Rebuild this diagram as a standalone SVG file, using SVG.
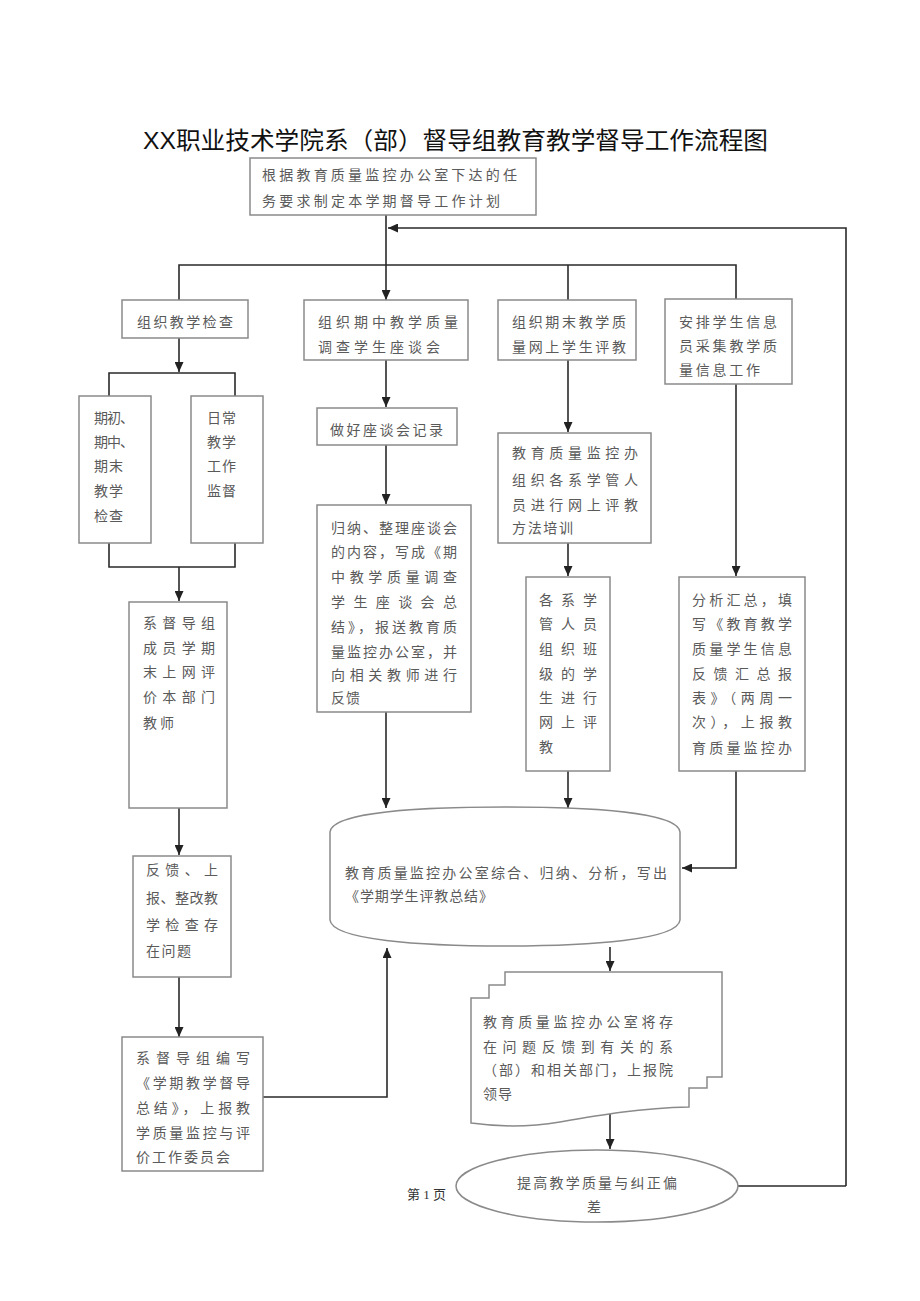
<svg xmlns="http://www.w3.org/2000/svg" width="920" height="1301" viewBox="0 0 920 1301">
<defs>
<marker id="ah" markerWidth="10" markerHeight="9" refX="10" refY="4.5" orient="auto" markerUnits="userSpaceOnUse">
<path d="M0,0 L10,4.5 L0,9 z" fill="#222"/>
</marker>
<style>
.box{fill:#fff;stroke:#8a8a8a;stroke-width:1.5}
.t{font-family:"Noto Sans CJK SC","Liberation Sans",sans-serif;font-size:14px;fill:#5a5a5a}
.c{fill:none;stroke:#2a2a2a;stroke-width:1.6}
.ca{fill:none;stroke:#2a2a2a;stroke-width:1.6;marker-end:url(#ah)}
</style>
</defs>
<rect width="920" height="1301" fill="#fff"/>
<text x="143" y="149" textLength="625" lengthAdjust="spacingAndGlyphs" style="font-family:'Liberation Sans','Noto Sans CJK SC',sans-serif;font-size:24px;fill:#111">XX<tspan style="font-family:'Noto Sans CJK SC',sans-serif">职业技术学院系（部）督导组教育教学督导工作流程图</tspan></text>

<g id="connectors">
<path class="ca" d="M386,215 V300"/>
<path class="ca" d="M846,1186 V228 H388"/>
<path class="c" d="M179,300 V265 H736 V299"/>
<path class="c" d="M568,265 V300"/>
<path class="ca" d="M179,338 V372"/>
<path class="c" d="M109,396 V373 H235 V396"/>
<path class="c" d="M109,543 V567 H235 V543"/>
<path class="ca" d="M179,567 V601"/>
<path class="ca" d="M179,808 V855"/>
<path class="ca" d="M179,977 V1037"/>
<path class="ca" d="M263,1097 H387 V948"/>
<path class="ca" d="M386,360 V407"/>
<path class="ca" d="M386,445 V504"/>
<path class="ca" d="M386,712 V808"/>
<path class="ca" d="M568,360 V432"/>
<path class="ca" d="M568,543 V576"/>
<path class="ca" d="M568,771 V808"/>
<path class="ca" d="M736,384 V576"/>
<path class="ca" d="M736,771 V868 H682"/>
<path class="ca" d="M610,947 V971"/>
<path class="ca" d="M610,1114 V1149"/>
<path class="c" d="M738,1186 H846"/>
</g>

<g id="n-plan">
<rect class="box" x="250" y="158" width="286" height="57"/>
<text class="t" x="262" y="180" textLength="255" lengthAdjust="spacing">根据教育质量监控办公室下达的任</text>
<text class="t" x="262" y="206" textLength="238" lengthAdjust="spacing">务要求制定本学期督导工作计划</text>
</g>

<g id="n-check">
<rect class="box" x="122" y="300" width="126" height="38"/>
<text class="t" x="137" y="327" textLength="96" lengthAdjust="spacing">组织教学检查</text>
</g>

<g id="n-midterm">
<rect class="box" x="304" y="300" width="164" height="60"/>
<text class="t" x="318" y="327" textLength="140" lengthAdjust="spacing">组织期中教学质量</text>
<text class="t" x="318" y="352" textLength="122" lengthAdjust="spacing">调查学生座谈会</text>
</g>

<g id="n-final">
<rect class="box" x="498" y="300" width="138" height="60"/>
<text class="t" x="512" y="327" textLength="114" lengthAdjust="spacing">组织期末教学质</text>
<text class="t" x="512" y="352" textLength="114" lengthAdjust="spacing">量网上学生评教</text>
</g>

<g id="n-info">
<rect class="box" x="665" y="299" width="127" height="85"/>
<text class="t" x="679" y="327" textLength="98" lengthAdjust="spacing">安排学生信息</text>
<text class="t" x="679" y="351" textLength="98" lengthAdjust="spacing">员采集教学质</text>
<text class="t" x="679" y="375" textLength="81" lengthAdjust="spacing">量信息工作</text>
</g>

<g id="n-periodic">
<rect class="box" x="79" y="396" width="72" height="147"/>
<text class="t" x="94" y="423" textLength="40" lengthAdjust="spacing">期初、</text>
<text class="t" x="94" y="447" textLength="40" lengthAdjust="spacing">期中、</text>
<text class="t" x="94" y="471" textLength="29" lengthAdjust="spacing">期末</text>
<text class="t" x="94" y="496" textLength="29" lengthAdjust="spacing">教学</text>
<text class="t" x="94" y="521" textLength="29" lengthAdjust="spacing">检查</text>
</g>

<g id="n-daily">
<rect class="box" x="191" y="396" width="72" height="147"/>
<text class="t" x="207" y="423" textLength="29" lengthAdjust="spacing">日常</text>
<text class="t" x="207" y="447" textLength="29" lengthAdjust="spacing">教学</text>
<text class="t" x="207" y="471" textLength="29" lengthAdjust="spacing">工作</text>
<text class="t" x="207" y="496" textLength="29" lengthAdjust="spacing">监督</text>
</g>

<g id="n-online">
<rect class="box" x="129" y="602" width="98" height="206"/>
<text class="t" x="143" y="628" textLength="72" lengthAdjust="spacing">系督导组</text>
<text class="t" x="143" y="653" textLength="72" lengthAdjust="spacing">成员学期</text>
<text class="t" x="143" y="677" textLength="72" lengthAdjust="spacing">末上网评</text>
<text class="t" x="143" y="702" textLength="72" lengthAdjust="spacing">价本部门</text>
<text class="t" x="143" y="728" textLength="31" lengthAdjust="spacing">教师</text>
</g>

<g id="n-feedback">
<rect class="box" x="133" y="856" width="98" height="121"/>
<text class="t" x="146" y="875" textLength="72" lengthAdjust="spacing">反馈、上</text>
<text class="t" x="146" y="903" textLength="72" lengthAdjust="spacing">报、整改教</text>
<text class="t" x="146" y="930" textLength="72" lengthAdjust="spacing">学检查存</text>
<text class="t" x="146" y="956" textLength="45" lengthAdjust="spacing">在问题</text>
</g>

<g id="n-summary">
<rect class="box" x="122" y="1037" width="141" height="134"/>
<text class="t" x="136" y="1063" textLength="114" lengthAdjust="spacing">系督导组编写</text>
<text class="t" x="136" y="1088" textLength="114" lengthAdjust="spacing">《学期教学督导</text>
<text class="t" x="136" y="1113" textLength="114" lengthAdjust="spacing">总结》，上报教</text>
<text class="t" x="136" y="1138" textLength="114" lengthAdjust="spacing">学质量监控与评</text>
<text class="t" x="136" y="1162" textLength="94" lengthAdjust="spacing">价工作委员会</text>
</g>

<g id="n-record">
<rect class="box" x="317" y="408" width="140" height="37"/>
<text class="t" x="330" y="435" textLength="113" lengthAdjust="spacing">做好座谈会记录</text>
</g>

<g id="n-organize">
<rect class="box" x="317" y="505" width="154" height="207"/>
<text class="t" x="331" y="533" textLength="126" lengthAdjust="spacing">归纳、整理座谈会</text>
<text class="t" x="331" y="557" textLength="126" lengthAdjust="spacing">的内容，写成《期</text>
<text class="t" x="331" y="582" textLength="126" lengthAdjust="spacing">中教学质量调查</text>
<text class="t" x="331" y="607" textLength="126" lengthAdjust="spacing">学生座谈会总</text>
<text class="t" x="331" y="632" textLength="126" lengthAdjust="spacing">结》，报送教育质</text>
<text class="t" x="331" y="657" textLength="126" lengthAdjust="spacing">量监控办公室，并</text>
<text class="t" x="331" y="680" textLength="126" lengthAdjust="spacing">向相关教师进行</text>
<text class="t" x="331" y="703" textLength="29" lengthAdjust="spacing">反馈</text>
</g>

<g id="n-training">
<rect class="box" x="498" y="433" width="153" height="110"/>
<text class="t" x="512" y="458" textLength="126" lengthAdjust="spacing">教育质量监控办</text>
<text class="t" x="512" y="485" textLength="126" lengthAdjust="spacing">组织各系学管人</text>
<text class="t" x="512" y="510" textLength="126" lengthAdjust="spacing">员进行网上评教</text>
<text class="t" x="512" y="533" textLength="61" lengthAdjust="spacing">方法培训</text>
</g>

<g id="n-evaluate">
<rect class="box" x="526" y="577" width="84" height="194"/>
<text class="t" x="539" y="605" textLength="58" lengthAdjust="spacing">各系学</text>
<text class="t" x="539" y="629" textLength="58" lengthAdjust="spacing">管人员</text>
<text class="t" x="539" y="654" textLength="58" lengthAdjust="spacing">组织班</text>
<text class="t" x="539" y="679" textLength="58" lengthAdjust="spacing">级的学</text>
<text class="t" x="539" y="703" textLength="58" lengthAdjust="spacing">生进行</text>
<text class="t" x="539" y="727" textLength="58" lengthAdjust="spacing">网上评</text>
<text class="t" x="539" y="752">教</text>
</g>

<g id="n-analyze">
<rect class="box" x="679" y="577" width="126" height="194"/>
<text class="t" x="692" y="605" textLength="100" lengthAdjust="spacing">分析汇总，填</text>
<text class="t" x="692" y="629" textLength="100" lengthAdjust="spacing">写《教育教学</text>
<text class="t" x="692" y="654" textLength="100" lengthAdjust="spacing">质量学生信息</text>
<text class="t" x="692" y="679" textLength="100" lengthAdjust="spacing">反馈汇总报</text>
<text class="t" x="692" y="703" textLength="100" lengthAdjust="spacing">表》（两周一</text>
<text class="t" x="692" y="727" textLength="100" lengthAdjust="spacing">次），上报教</text>
<text class="t" x="692" y="753" textLength="100" lengthAdjust="spacing">育质量监控办</text>
</g>

<g id="n-office">
<path class="box" d="M330,832 C332,812 420,807 505,807 C590,807 678,812 680,832 V920 C678,940 590,946 505,946 C420,946 332,940 330,920 Z"/>
<text class="t" x="345" y="878" textLength="322" lengthAdjust="spacing">教育质量监控办公室综合、归纳、分析，写出</text>
<text class="t" x="345" y="901" textLength="148" lengthAdjust="spacing">《学期学生评教总结》</text>
</g>

<g id="n-report">
<path class="box" d="M505,972 H722 V1077 H707 V1088 H689 V1107 C640,1108 600,1115 560,1122 C530,1127 500,1127 471,1123 V998 H489 V985 H505 Z"/>
<text class="t" x="483" y="1027" textLength="190" lengthAdjust="spacing">教育质量监控办公室将存</text>
<text class="t" x="483" y="1052" textLength="190" lengthAdjust="spacing">在问题反馈到有关的系</text>
<text class="t" x="483" y="1075" textLength="190" lengthAdjust="spacing">（部）和相关部门，上报院</text>
<text class="t" x="483" y="1099" textLength="29" lengthAdjust="spacing">领导</text>
</g>

<g id="n-improve">
<ellipse class="box" cx="597" cy="1186" rx="141" ry="36"/>
<text class="t" x="517" y="1188" textLength="160" lengthAdjust="spacing">提高教学质量与纠正偏</text>
<text class="t" x="587" y="1212">差</text>
</g>

<text x="407" y="1199" style="font-family:'Liberation Serif','Noto Sans CJK SC',serif;font-size:13px;fill:#333">第 1 页</text>
</svg>
